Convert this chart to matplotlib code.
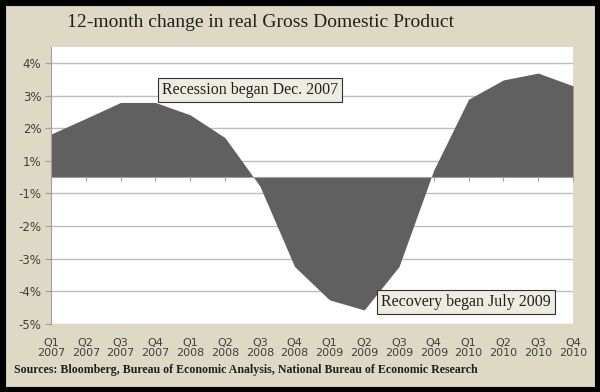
import numpy as np
import matplotlib
matplotlib.use("Agg")
import matplotlib.pyplot as plt
from matplotlib.patches import Rectangle

# quarters shown on the x axis
quarters = ["Q1", "Q2", "Q3", "Q4"] * 4
years = ["2007"] * 4 + ["2008"] * 4 + ["2009"] * 4 + ["2010"] * 4

# 12-month change in real GDP, percent
gdp_change = [1.32, 1.80, 2.29, 2.29, 1.91, 1.21, -0.27, -2.74,
              -3.76, -4.07, -2.74, 0.22, 2.39, 2.98, 3.19, 2.80]

# Excel put the gridlines at half steps and rounded the labels
ytick_pos = [-4.5, -3.5, -2.5, -1.5, -0.5, 0.5, 1.5, 2.5, 3.5]
ytick_labels = ["-5%", "-4%", "-3%", "-2%", "-1%", "1%", "2%", "3%", "4%"]

bg = "#DDD9C4"
fill_col = "#606060"
grid_col = "#BDBDBD"
text_col = "#404040"

fig = plt.figure(figsize=(6, 3.92), dpi=100, facecolor=bg)
ax = fig.add_axes([0.085, 0.1735, 0.87, 0.7075])
ax.set_facecolor("white")

x = np.arange(len(gdp_change))
ax.fill_between(x, gdp_change, 0, color=fill_col, linewidth=0, zorder=2)

ax.set_xlim(0, len(x) - 1)
ax.set_ylim(-4.5, 4.0)

# y axis
ax.set_yticks(ytick_pos)
ax.set_yticklabels(ytick_labels, fontsize=8.5, color=text_col, family="DejaVu Sans")
ax.tick_params(axis="y", length=4, color="#A0A0A0", pad=3)
ax.grid(axis="y", color=grid_col, linewidth=1.0, zorder=1)

for s in ["top", "right"]:
    ax.spines[s].set_visible(False)
ax.spines["left"].set_color("#A0A0A0")

# x axis line sits at zero, labels stay at the bottom
ax.spines["bottom"].set_position(("data", 0))
ax.spines["bottom"].set_color("#A0A0A0")
ax.spines["bottom"].set_zorder(3)
ax.set_xticks(x)
ax.tick_params(axis="x", length=3, color="#A0A0A0", labelbottom=False)

sec = ax.secondary_xaxis("bottom")
sec.set_xticks(x)
sec.set_xticklabels([q + "\n" + y for q, y in zip(quarters, years)],
                    fontsize=8, color=text_col, linespacing=1.05)
sec.tick_params(length=0, pad=10)
sec.spines["bottom"].set_visible(False)

# annotations
box = dict(boxstyle="square,pad=0.25", facecolor="#EEECE1", edgecolor="#303030", linewidth=0.8)
ax.text(5.72, 2.68, "Recession began Dec. 2007", ha="center", va="center",
        fontsize=11.5, family="Liberation Serif", color="#202020", bbox=box, zorder=5)
ax.text(11.93, -3.83, "Recovery began July 2009", ha="center", va="center",
        fontsize=11.5, family="Liberation Serif", color="#202020", bbox=box, zorder=5)

fig.text(0.435, 0.942, "12-month change in real Gross Domestic Product",
         ha="center", va="center", fontsize=14, family="Liberation Serif", color="#202020")
fig.text(0.023, 0.056,
         "Sources: Bloomberg, Bureau of Economic Analysis, National Bureau of Economic Research",
         ha="left", va="center", fontsize=8.6, family="Liberation Serif", weight="bold", color="#202020")

fig.patches.append(Rectangle((0, 0), 1, 1, transform=fig.transFigure, fill=False,
                             edgecolor="black", linewidth=8, zorder=10))

fig.savefig("out.png", dpi=100, facecolor=bg)
